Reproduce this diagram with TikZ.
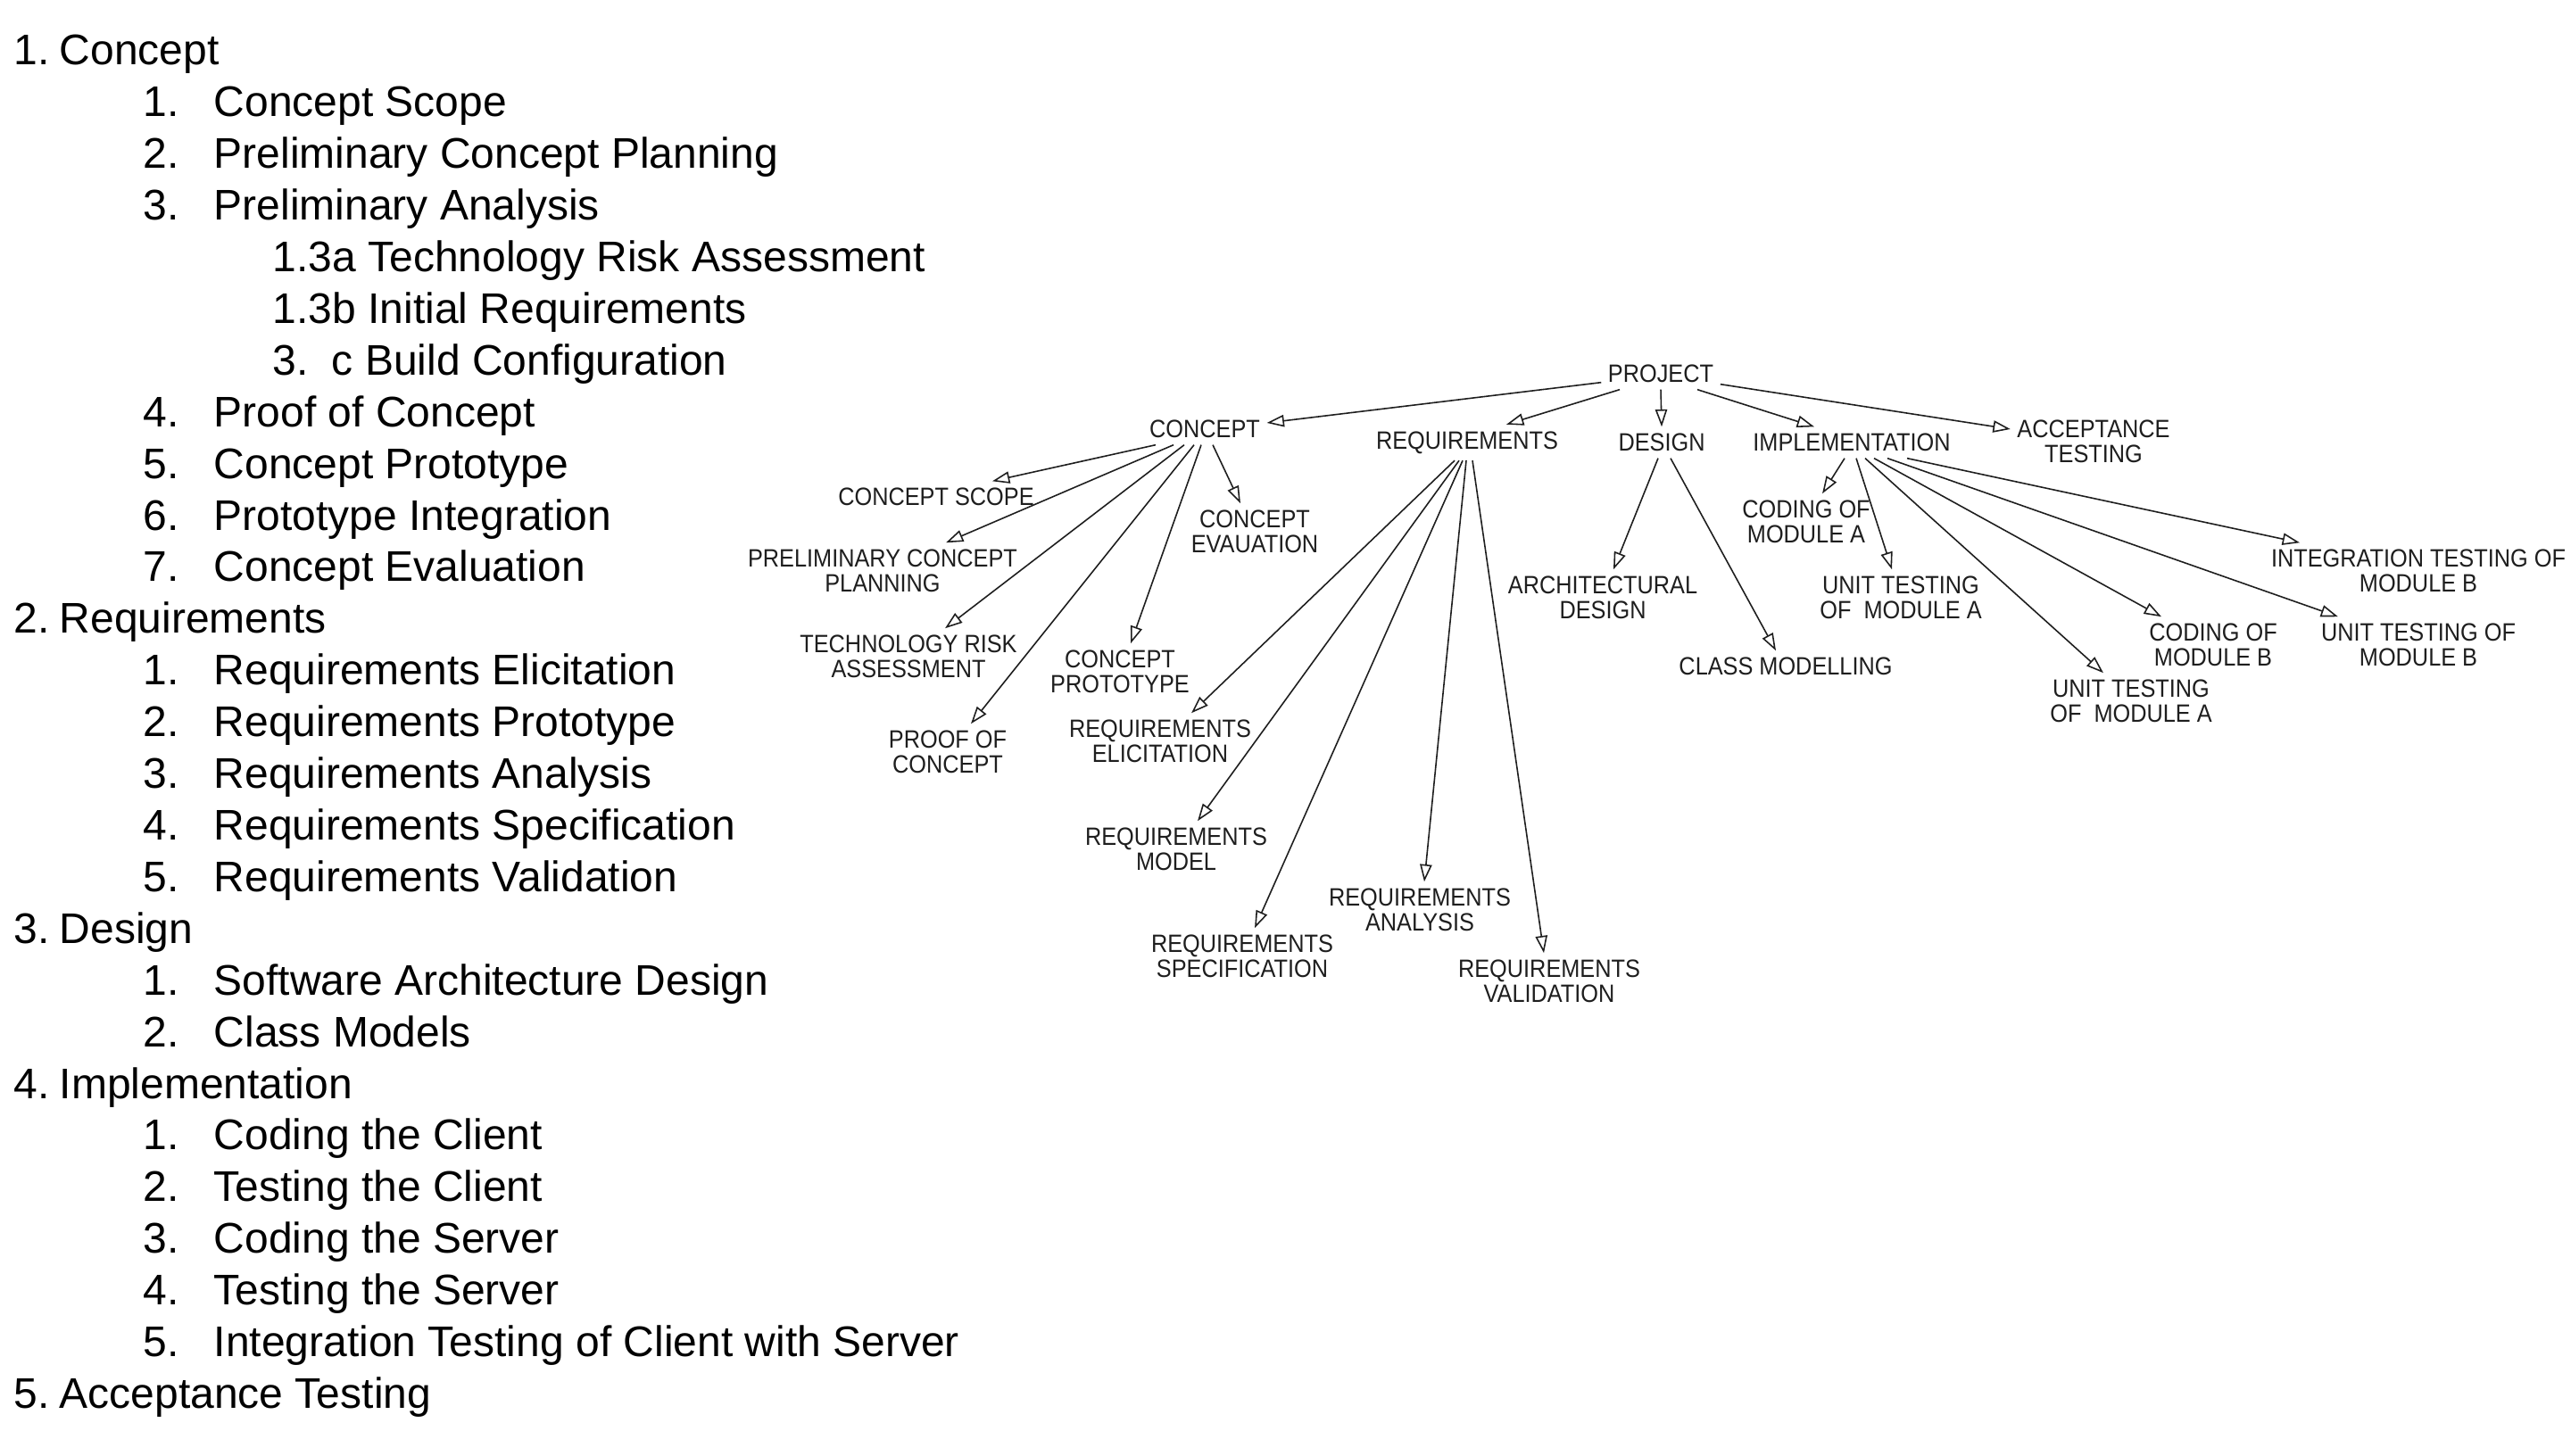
\documentclass[tikz,border=0pt]{standalone}
\usepackage{fontspec}
\setmainfont{Liberation Sans}
\newfontfamily\treefont[FakeStretch=0.9]{Liberation Sans}
\usetikzlibrary{arrows.meta, positioning}
\definecolor{inkgray}{RGB}{30, 30, 30}
\newcommand{\itm}[2]{\makebox[7.9mm][l]{#1}#2}

\begin{document}
\begin{tikzpicture}[
    outline/.style={anchor=base west, inner sep=0pt, font=\fontsize{13.66}{16}\selectfont},
    wbs/.style={inner sep=2pt, align=center, text=inkgray, font=\treefont\fontsize{8}{8}\selectfont},
    arr/.style={draw=inkgray, line width=0.45pt, -{Triangle[open, length=5.5pt, width=3.8pt]}}
]
    \useasboundingbox (0,0) rectangle (28.81,-16.32);

    % Outline list
    \node[outline] (l1) at (0.15, -0.730) {1.\hspace{0.23em}Concept};
    \node[outline] (l11) at (1.60, -1.309) {\itm{1.}{Concept Scope}};
    \node[outline] (l12) at (1.60, -1.888) {\itm{2.}{Preliminary Concept Planning}};
    \node[outline] (l13) at (1.60, -2.467) {\itm{3.}{Preliminary Analysis}};
    \node[outline] (l13a) at (3.05, -3.046) {1.3a Technology Risk Assessment};
    \node[outline] (l13b) at (3.05, -3.625) {1.3b Initial Requirements};
    \node[outline] (l13c) at (3.05, -4.204) {\makebox[6.6mm][l]{3.}c Build Configuration};
    \node[outline] (l14) at (1.60, -4.783) {\itm{4.}{Proof of Concept}};
    \node[outline] (l15) at (1.60, -5.362) {\itm{5.}{Concept Prototype}};
    \node[outline] (l16) at (1.60, -5.941) {\itm{6.}{Prototype Integration}};
    \node[outline] (l17) at (1.60, -6.520) {\itm{7.}{Concept Evaluation}};

    \node[outline] (l2) at (0.15, -7.099) {2.\hspace{0.23em}Requirements};
    \node[outline] (l21) at (1.60, -7.678) {\itm{1.}{Requirements Elicitation}};
    \node[outline] (l22) at (1.60, -8.257) {\itm{2.}{Requirements Prototype}};
    \node[outline] (l23) at (1.60, -8.836) {\itm{3.}{Requirements Analysis}};
    \node[outline] (l24) at (1.60, -9.415) {\itm{4.}{Requirements Specification}};
    \node[outline] (l25) at (1.60, -9.994) {\itm{5.}{Requirements Validation}};

    \node[outline] (l3) at (0.15, -10.573) {3.\hspace{0.23em}Design};
    \node[outline] (l31) at (1.60, -11.152) {\itm{1.}{Software Architecture Design}};
    \node[outline] (l32) at (1.60, -11.731) {\itm{2.}{Class Models}};

    \node[outline] (l4) at (0.15, -12.310) {4.\hspace{0.23em}Implementation};
    \node[outline] (l41) at (1.60, -12.889) {\itm{1.}{Coding the Client}};
    \node[outline] (l42) at (1.60, -13.468) {\itm{2.}{Testing the Client}};
    \node[outline] (l43) at (1.60, -14.047) {\itm{3.}{Coding the Server}};
    \node[outline] (l44) at (1.60, -14.626) {\itm{4.}{Testing the Server}};
    \node[outline] (l45) at (1.60, -15.205) {\itm{5.}{Integration Testing of Client with Server}};

    \node[outline] (l5) at (0.15, -15.784) {5.\hspace{0.23em}Acceptance Testing};

    % Work breakdown tree
    \node[wbs] (project) at (18.61, -4.19) {PROJECT};

    \node[wbs] (concept) at (13.50, -4.81) {CONCEPT};
    \node[wbs] (req) at (16.44, -4.96) {REQUIREMENTS};
    \node[wbs] (design) at (18.62, -4.96) {DESIGN};
    \node[wbs] (impl) at (20.75, -4.96) {IMPLEMENTATION};
    \node[wbs] (accept) at (23.46, -4.95) {ACCEPTANCE\\TESTING};

    \node[wbs] (scope) at (10.49, -5.57) {CONCEPT SCOPE};
    \node[wbs] (prelim) at (9.89, -6.40) {PRELIMINARY CONCEPT\\PLANNING};
    \node[wbs] (techrisk) at (10.18, -7.36) {TECHNOLOGY RISK\\ASSESSMENT};
    \node[wbs] (proof) at (10.62, -8.43) {PROOF OF\\CONCEPT};
    \node[wbs] (cproto) at (12.55, -7.53) {CONCEPT\\PROTOTYPE};
    \node[wbs] (ceval) at (14.06, -5.96) {CONCEPT\\EVAUATION};

    \node[wbs] (relicit) at (13.00, -8.31) {REQUIREMENTS\\ELICITATION};
    \node[wbs] (rmodel) at (13.18, -9.52) {REQUIREMENTS\\MODEL};
    \node[wbs] (rspec) at (13.92, -10.72) {REQUIREMENTS\\SPECIFICATION};
    \node[wbs] (ranalysis) at (15.91, -10.20) {REQUIREMENTS\\ANALYSIS};
    \node[wbs] (rvalid) at (17.36, -11.00) {REQUIREMENTS\\VALIDATION};

    \node[wbs] (archdes) at (17.96, -6.70) {ARCHITECTURAL\\DESIGN};
    \node[wbs] (classmod) at (20.01, -7.47) {CLASS MODELLING};

    \node[wbs] (codeA) at (20.24, -5.85) {CODING OF\\MODULE A};
    \node[wbs] (unitA1) at (21.30, -6.70) {UNIT TESTING\\OF~~MODULE A};
    \node[wbs] (unitA2) at (23.88, -7.86) {UNIT TESTING\\OF~~MODULE A};
    \node[wbs] (codeB) at (24.80, -7.23) {CODING OF\\MODULE B};
    \node[wbs] (unitB) at (27.10, -7.23) {UNIT TESTING OF\\MODULE B};
    \node[wbs] (integB) at (27.10, -6.40) {INTEGRATION TESTING OF\\MODULE B};

    % Project level
    \draw[arr] ([yshift=0.08cm]project.south west) -- ([yshift=0.07cm]concept.east);
    \draw[arr] ([xshift=-0.46cm]project.south) -- ([xshift=0.44cm]req.north);
    \draw[arr] (project.south) -- (design.north);
    \draw[arr] ([xshift=0.41cm]project.south) -- ([xshift=-0.42cm]impl.north);
    \draw[arr] ([yshift=0.06cm]project.south east) -- ([yshift=0.14cm]accept.west);

    % Concept
    \draw[arr] ([xshift=-0.55cm]concept.south) -- ([xshift=0.63cm]scope.north);
    \draw[arr] ([xshift=-0.35cm]concept.south) -- ([xshift=0.71cm]prelim.north);
    \draw[arr] ([xshift=-0.23cm]concept.south) -- ([xshift=0.41cm]techrisk.north);
    \draw[arr] ([xshift=-0.12cm]concept.south) -- ([xshift=0.26cm]proof.north);
    \draw[arr] ([xshift=-0.04cm]concept.south) -- ([xshift=0.12cm]cproto.north);
    \draw[arr] ([xshift=0.09cm]concept.south) -- ([xshift=-0.16cm]ceval.north);

    % Requirements
    \draw[arr] ([xshift=-0.14cm]req.south) -- ([xshift=0.35cm]relicit.north);
    \draw[arr] ([xshift=-0.09cm]req.south) -- ([xshift=0.24cm]rmodel.north);
    \draw[arr] ([xshift=-0.05cm]req.south) -- ([xshift=0.14cm]rspec.north);
    \draw[arr] ([xshift=-0.01cm]req.south) -- ([xshift=0.05cm]ranalysis.north);
    \draw[arr] ([xshift=0.06cm]req.south) -- ([xshift=-0.06cm]rvalid.north);

    % Design
    \draw[arr] ([xshift=-0.04cm]design.south) -- ([xshift=0.12cm]archdes.north);
    \draw[arr] ([xshift=0.10cm]design.south) -- ([xshift=-0.11cm]classmod.north);

    % Implementation
    \draw[arr] ([xshift=-0.08cm]impl.south) -- ([xshift=0.18cm]codeA.north);
    \draw[arr] ([xshift=0.05cm]impl.south) -- ([xshift=-0.10cm]unitA1.north);
    \draw[arr] ([xshift=0.15cm]impl.south) -- ([xshift=-0.31cm]unitA2.north);
    \draw[arr] ([xshift=0.25cm]impl.south) -- ([xshift=-0.58cm]codeB.north);
    \draw[arr] ([xshift=0.40cm]impl.south) -- ([xshift=-0.90cm]unitB.north);
    \draw[arr] ([xshift=0.62cm]impl.south) -- ([xshift=-1.33cm]integB.north);

\end{tikzpicture}
\end{document}
